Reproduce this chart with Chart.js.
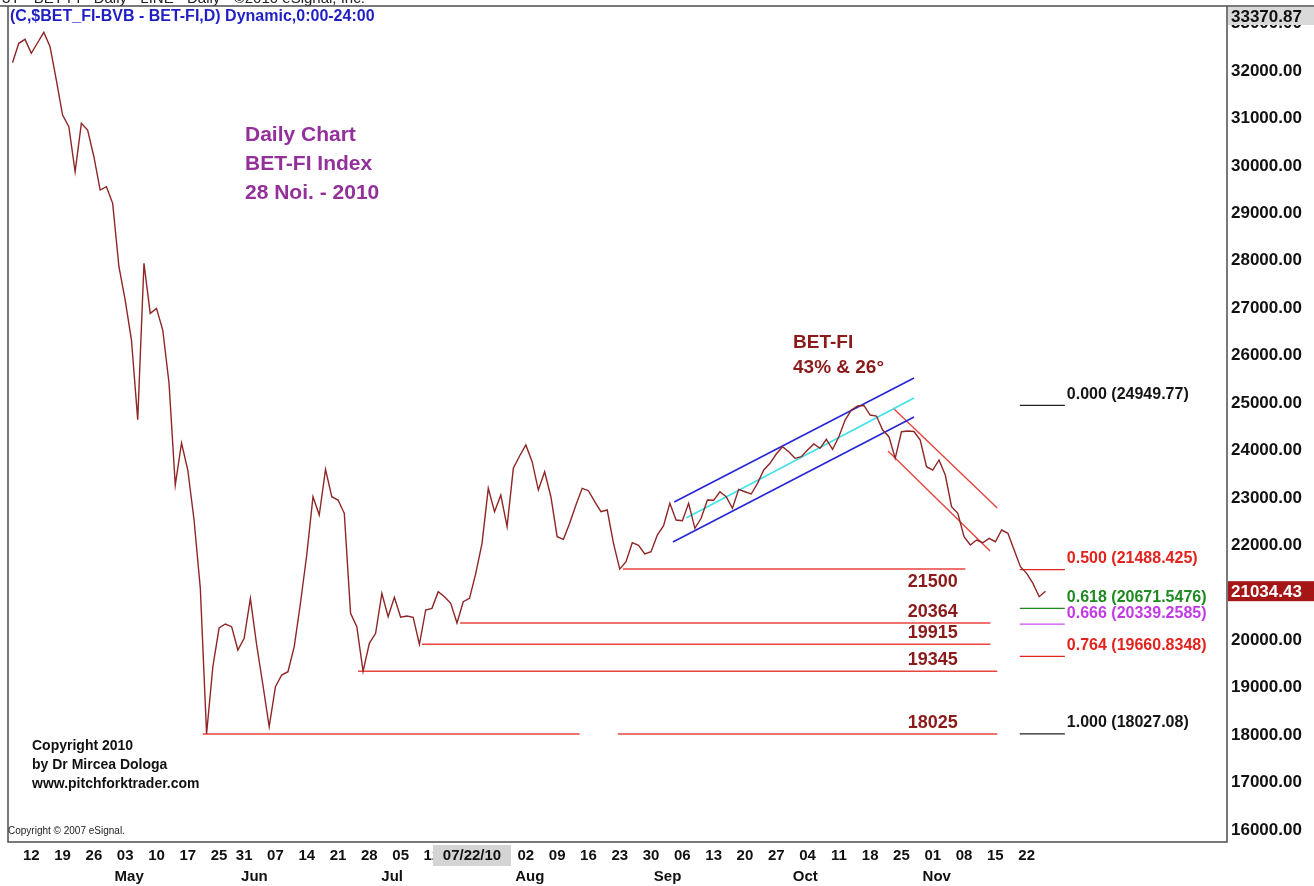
<!DOCTYPE html>
<html>
<head>
<meta charset="utf-8">
<script src="https://cdn.jsdelivr.net/npm/chart.js@4.4.1/dist/chart.umd.min.js"></script>
<style>
  html, body { margin: 0; padding: 0; background: #ffffff; }
  #wrap { width: 1314px; height: 886px; position: relative; }
</style>
</head>
<body>
<div id="wrap"><canvas id="c" width="1314" height="886"></canvas></div>
<script>
// ---------------- DATA ----------------
// Daily closes of BET-FI, trading days from 7 Apr 2010 (index 0) to 25 Nov 2010 (index 165)
const closes = [
  32175, 32584, 32668, 32373, 32596, 32816, 32512, 31810, 31072, 30826,
  29877, 30897, 30756, 30193, 29491, 29561, 29211, 27874, 27172, 26329,
  24650, 27946, 26892, 26997, 26540, 25423, 23273, 24158, 23589, 22535,
  21100, 18027.08, 19442, 20258, 20342, 20286, 19794, 20041, 20884, 19900,
  19057, 18178, 19021, 19267, 19337, 19864, 20785, 21797, 23026, 22640,
  23604, 23026, 22956, 22676, 20568, 20286, 19345, 19936, 20146, 20990,
  20496, 20905, 20484, 20511, 20484, 19915, 20638, 20673, 21023, 20918,
  20779, 20364, 20813, 20884, 21411, 22044, 23203, 22710, 23062, 22394,
  23625, 23884, 24116, 23764, 23167, 23553, 23026, 22183, 22128, 22465,
  22851, 23203, 23153, 22921, 22710, 22746, 22044, 21500, 21656, 22056,
  22000, 21818, 21867, 22219, 22415, 22887, 22535, 22520, 22887, 22360,
  22571, 22956, 22950, 23131, 23026, 22781, 23182, 23131, 23083, 23308,
  23589, 23730, 23926, 24080, 23975, 23835, 23870, 24010, 24137, 24046,
  24236, 24025, 24291, 24643, 24854, 24938, 24949.77, 24748, 24727, 24432,
  24291, 23835, 24396, 24410, 24400, 24221, 23659, 23589, 23800, 23483,
  22815, 22676, 22183, 22008, 22113, 22056, 22149, 22077, 22324, 22254,
  21902, 21550, 21411, 21200, 20918, 21034.43
];

// x-axis tick labels (week starts) and their trading-day index
const weekTickIdx    = [3, 8, 13, 18, 23, 28, 33, 37, 42, 47, 52, 57, 62, 67, 82, 87, 92, 97, 102, 107, 112, 117, 122, 127, 132, 137, 142, 147, 152, 157, 162];
const weekTickLabels = ['12','19','26','03','10','17','25','31','07','14','21','28','05','12','02','09','16','23','30','06','13','20','27','04','11','18','25','01','08','15','22'];
const monthTickIdx    = [18, 38, 60, 82, 104, 126, 147];
const monthTickLabels = ['May','Jun','Jul','Aug','Sep','Oct','Nov'];
const cursorDateLabel = '07/22/10';

// y-axis ticks
const yTickValues = [16000,17000,18000,19000,20000,21000,22000,23000,24000,25000,26000,27000,28000,29000,30000,31000,32000,33000];
const priceHigh = 33370.87;
const lastClose = 21034.43;

// horizontal support levels (value, day index of origin, day index where line ends)
const supportLevels   = [21500, 20364, 19915, 19345];
const supportStartIdx = [97.5, 71.5, 65.4, 55.2];
const supportEndIdx   = [152.2, 156.2, 156.2, 157.3];
const lowLevel = 18025;
const lowSegments = [[30.4, 90.6], [96.7, 157.3]];

// channels: [dayIndex, value] endpoints
const upChannelTop    = [[105.7, 22914], [144.0, 25528]];
const upChannelBottom = [[105.5, 22071], [144.0, 24706]];
const upChannelMid    = [[107.6, 22577], [144.0, 25107]];
const downChannelTop    = [[140.65, 24896], [157.3, 22788]];
const downChannelBottom = [[139.85, 23989], [156.15, 21881]];

// Fibonacci retracement
const fibRatios = ['0.000', '0.500', '0.618', '0.666', '0.764', '1.000'];
const fibValues = [24949.77, 21488.425, 20671.5476, 20339.2585, 19660.8348, 18027.08];
const fibValueText = ['24949.77', '21488.425', '20671.5476', '20339.2585', '19660.8348', '18027.08'];
const fibSpan = [160.9, 168.1];

// ---------------- STYLES ----------------
const FONT = "'Liberation Sans', Arial, Helvetica, sans-serif";
const fibColors = ['#222222', '#e3231e', '#1f8a22', '#cf4cf0', '#e3231e', '#222222'];
const fibTextColors = ['#151515', '#e3231e', '#1f8a22', '#c23ae6', '#e3231e', '#151515'];
const levelRed = '#e8453f';

const seg = (pts) => pts.map(p => ({ x: p[0], y: p[1] }));
const datasets = [];
datasets.push({ data: closes.map((v, i) => ({ x: i, y: v })), borderColor: '#8e2626', borderWidth: 1.4 });
datasets.push({ data: seg(upChannelTop), borderColor: '#2626d8', borderWidth: 1.6 });
datasets.push({ data: seg(upChannelBottom), borderColor: '#2626d8', borderWidth: 1.6 });
datasets.push({ data: seg(upChannelMid), borderColor: '#40e2ea', borderWidth: 1.6 });
datasets.push({ data: seg(downChannelTop), borderColor: '#e4443e', borderWidth: 1.4 });
datasets.push({ data: seg(downChannelBottom), borderColor: '#e4443e', borderWidth: 1.4 });
supportLevels.forEach((lv, k) => {
  datasets.push({ data: [{ x: supportStartIdx[k], y: lv }, { x: supportEndIdx[k], y: lv }], borderColor: levelRed, borderWidth: 1.5 });
});
datasets.push({
  data: [{ x: lowSegments[0][0], y: lowLevel }, { x: lowSegments[0][1], y: lowLevel },
         { x: (lowSegments[0][1] + lowSegments[1][0]) / 2, y: null },
         { x: lowSegments[1][0], y: lowLevel }, { x: lowSegments[1][1], y: lowLevel }],
  borderColor: levelRed, borderWidth: 1.5, spanGaps: false
});
fibValues.forEach((fv, k) => {
  datasets.push({ data: [{ x: fibSpan[0], y: fv }, { x: fibSpan[1], y: fv }], borderColor: fibColors[k], borderWidth: 1.3 });
});

const X_MIN = -0.72, X_MAX = 194.0;
const Y_MIN = 15747, Y_MAX = priceHigh;

const deco = {
  id: 'deco',
  beforeDraw(chart) {
    const ctx = chart.ctx;
    ctx.save();
    ctx.fillStyle = '#ffffff';
    ctx.fillRect(0, 0, chart.width, chart.height);
    ctx.restore();
  },
  afterDraw(chart) {
    const { ctx, chartArea: a } = chart;
    const xs = chart.scales.x, ys = chart.scales.y;
    ctx.save();

    // cut header line above the frame
    ctx.fillStyle = '#222';
    ctx.font = `15px ${FONT}`;
    ctx.textAlign = 'left';
    ctx.textBaseline = 'alphabetic';
    ctx.fillText('3Y - BET-FI - Daily - LINE - Daily - \u00A92010 eSignal, Inc.', 2, 3);
    ctx.textBaseline = 'middle';

    // frame
    ctx.strokeStyle = '#4d4d4d';
    ctx.lineWidth = 1.5;
    ctx.beginPath();
    ctx.moveTo(0, a.top); ctx.lineTo(chart.width, a.top);
    ctx.moveTo(a.left, a.top); ctx.lineTo(a.left, a.bottom); ctx.lineTo(a.right, a.bottom); ctx.lineTo(a.right, a.top);
    ctx.stroke();

    // title
    ctx.fillStyle = '#1f1fc4';
    ctx.font = `bold 16px ${FONT}`;
    ctx.fillText('(C,$BET_FI-BVB - BET-FI,D) Dynamic,0:00-24:00', 10, 17);

    // description
    ctx.fillStyle = '#93309a';
    ctx.font = `bold 21px ${FONT}`;
    ctx.fillText('Daily Chart', 245, 135);
    ctx.fillText('BET-FI Index', 245, 164);
    ctx.fillText('28 Noi. - 2010', 245, 193);

    // channel note
    ctx.fillStyle = '#8b1b1b';
    ctx.font = `bold 19px ${FONT}`;
    ctx.fillText('BET-FI', 793, 343);
    ctx.fillText('43% & 26\u00B0', 793, 368);

    // support level labels
    ctx.font = `bold 18px ${FONT}`;
    ctx.textAlign = 'center';
    const lx = xs.getPixelForValue(147);
    const allLevels = supportLevels.concat([lowLevel]);
    allLevels.forEach((lv, k) => {
      const py = ys.getPixelForValue(lv);
      const dy = k === 0 ? 13 : -11;
      ctx.fillText(String(lv), lx, py + dy);
    });

    // fib labels
    ctx.textAlign = 'left';
    ctx.font = `bold 16px ${FONT}`;
    const fx = xs.getPixelForValue(fibSpan[1]) + 2;
    fibValues.forEach((fv, k) => {
      ctx.fillStyle = fibTextColors[k];
      ctx.fillText(`${fibRatios[k]} (${fibValueText[k]})`, fx, ys.getPixelForValue(fv) - 11);
    });

    // copyright
    ctx.fillStyle = '#111';
    ctx.font = `bold 14px ${FONT}`;
    ctx.fillText('Copyright 2010', 32, 746);
    ctx.fillText('by Dr Mircea Dologa', 32, 765);
    ctx.fillText('www.pitchforktrader.com', 32, 784);
    ctx.font = `10px ${FONT}`;
    ctx.fillStyle = '#222';
    ctx.fillText('Copyright \u00A9 2007 eSignal.', 8, 831);

    // y-axis markers
    const yl = a.right + 1;
    ctx.font = `bold 17px ${FONT}`;
    ctx.fillStyle = '#d9d9d9';
    ctx.fillRect(yl, a.top + 1, chart.width - yl, 18);
    ctx.fillStyle = '#111';
    ctx.fillText(priceHigh.toFixed(2), a.right + 4, a.top + 11);

    const pl = ys.getPixelForValue(lastClose);
    ctx.fillStyle = '#a51616';
    ctx.fillRect(yl, pl - 10, chart.width - yl, 20);
    ctx.fillStyle = '#ffffff';
    ctx.fillText(lastClose.toFixed(2), a.right + 4, pl + 1);

    // cursor date box on x-axis
    ctx.fillStyle = '#d4d4d4';
    ctx.fillRect(433, a.bottom + 3, 78, 21);
    ctx.fillStyle = '#111';
    ctx.font = `bold 15px ${FONT}`;
    ctx.textAlign = 'center';
    ctx.fillText(cursorDateLabel, 472, a.bottom + 14);

    ctx.restore();
  }
};

Chart.defaults.font.family = FONT;

const noPad = (s) => { s.paddingLeft = 0; s.paddingRight = 0; s.paddingTop = 0; s.paddingBottom = 0; };

new Chart(document.getElementById('c'), {
  type: 'line',
  data: { datasets },
  options: {
    responsive: false,
    animation: false,
    devicePixelRatio: 1,
    elements: { point: { radius: 0, hoverRadius: 0 }, line: { tension: 0, fill: false } },
    layout: { padding: { left: 8, top: 6, right: 0, bottom: 0 } },
    plugins: { legend: { display: false }, tooltip: { enabled: false } },
    events: [],
    scales: {
      x: {
        type: 'linear', position: 'bottom', min: X_MIN, max: X_MAX, bounds: 'data', weight: 0,
        grid: { display: false, drawTicks: false }, border: { display: false },
        afterBuildTicks: (s) => { s.ticks = weekTickIdx.map(v => ({ value: v })); },
        afterFit: (s) => { s.height = 23; noPad(s); },
        ticks: {
          autoSkip: false, maxRotation: 0, padding: 5, color: '#111',
          font: { size: 15, weight: 'bold' },
          callback: (v) => { const k = weekTickIdx.indexOf(v); return k >= 0 ? weekTickLabels[k] : ''; }
        }
      },
      x2: {
        type: 'linear', position: 'bottom', min: X_MIN, max: X_MAX, bounds: 'data', weight: 1,
        grid: { display: false, drawTicks: false }, border: { display: false },
        afterBuildTicks: (s) => { s.ticks = monthTickIdx.map(v => ({ value: v })); },
        afterFit: (s) => { s.height = 21; noPad(s); },
        ticks: {
          autoSkip: false, maxRotation: 0, padding: 3, labelOffset: 4, color: '#111',
          font: { size: 15, weight: 'bold' },
          callback: (v) => { const k = monthTickIdx.indexOf(v); return k >= 0 ? monthTickLabels[k] : ''; }
        }
      },
      y: {
        type: 'linear', position: 'right', min: Y_MIN, max: Y_MAX, bounds: 'data',
        grid: { display: false, drawTicks: false }, border: { display: false },
        afterBuildTicks: (s) => { s.ticks = yTickValues.map(v => ({ value: v })); },
        afterFit: (s) => { s.width = 87; noPad(s); },
        ticks: {
          padding: 4, color: '#111', autoSkip: false,
          font: { size: 17, weight: 'bold' },
          callback: (v) => Number(v).toFixed(2)
        }
      }
    }
  },
  plugins: [deco]
});
</script>
</body>
</html>
